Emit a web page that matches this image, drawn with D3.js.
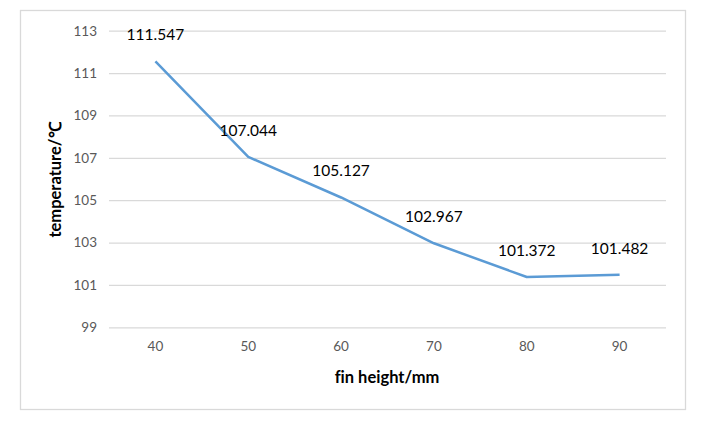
<!DOCTYPE html>
<html>
<head>
<meta charset="utf-8">
<script src="https://cdn.jsdelivr.net/npm/d3@7"></script>
<style>
  body { margin: 0; background: #fff; }
  text { font-variant-ligatures: none; font-feature-settings: "liga" 0; }
</style>
</head>
<body>
<div id="container"></div>
<script>
let w = 711;
let h = 423;

// chart data
let heights = ["40", "50", "60", "70", "80", "90"];
let temps = [111.547, 107.044, 105.127, 102.967, 101.372, 101.482];
let yTicks = [99, 101, 103, 105, 107, 109, 111, 113];

let font = "Lato, 'Open Sans', sans-serif";

let viz = d3.select("#container")
  .append("svg")
    .attr("width", w)
    .attr("height", h)
    .style("background-color", "white");

// outer chart border
viz.append("rect")
  .attr("x", 20.5).attr("y", 10.5)
  .attr("width", 665).attr("height", 399)
  .attr("fill", "none")
  .attr("stroke", "#d9d9d9")
  .attr("stroke-width", 1.3);

let plotLeft = 109, plotRight = 666, plotTop = 30.7, plotBottom = 327.3;

let xScale = d3.scaleBand().domain(heights).range([plotLeft, plotRight]);
let yScale = d3.scaleLinear().domain([99, 113]).range([plotBottom, plotTop]);

// horizontal gridlines
let yAxis = d3.axisLeft(yScale).tickValues(yTicks)
  .tickSize(-(plotRight - plotLeft)).tickPadding(12).tickFormat(d3.format("d"));
let yAxisGroup = viz.append("g")
  .attr("transform", "translate(" + plotLeft + ",0)")
  .call(yAxis);
yAxisGroup.select(".domain").remove();
yAxisGroup.selectAll("line").attr("stroke", "#d9d9d9").attr("stroke-width", 1.2);
yAxisGroup.selectAll("text")
  .attr("fill", "#595959")
  .style("font-family", font)
  .style("font-size", "13.5px");

// x labels
let xAxis = d3.axisBottom(xScale).tickSize(0).tickPadding(14);
let xAxisGroup = viz.append("g")
  .attr("transform", "translate(0," + plotBottom + ")")
  .call(xAxis);
xAxisGroup.select(".domain").remove();
xAxisGroup.selectAll("text")
  .attr("fill", "#595959")
  .style("font-family", font)
  .style("font-size", "13.5px");

// the line
let line = d3.line()
  .x(function(d, i){ return xScale(heights[i]) + xScale.bandwidth() / 2; })
  .y(function(d){ return yScale(d); });

viz.append("path")
  .datum(temps)
  .attr("d", line)
  .attr("fill", "none")
  .attr("stroke", "#5b9bd5")
  .attr("stroke-width", 2.5)
  .attr("stroke-linejoin", "round");

// data labels
viz.selectAll(".dlabel").data(temps).enter()
  .append("text")
  .attr("class", "dlabel")
  .attr("x", function(d, i){ return xScale(heights[i]) + xScale.bandwidth() / 2; })
  .attr("y", function(d){ return yScale(d) - 21; })
  .attr("text-anchor", "middle")
  .attr("fill", "#000")
  .style("font-family", font)
  .style("font-size", "15.5px")
  .text(function(d){ return d3.format(".3f")(d); });

// axis titles
viz.append("text")
  .attr("x", 387)
  .attr("y", 383)
  .attr("text-anchor", "middle")
  .attr("fill", "#000")
  .style("font-family", font)
  .style("font-size", "16.5px")
  .style("font-weight", "bold")
  .text("fin height/mm");

viz.append("text")
  .attr("transform", "translate(61,180) rotate(-90)")
  .attr("text-anchor", "middle")
  .attr("fill", "#000")
  .style("font-family", font)
  .style("font-size", "16.5px")
  .style("font-weight", "bold")
  .text("temperature/℃");
</script>
</body>
</html>
